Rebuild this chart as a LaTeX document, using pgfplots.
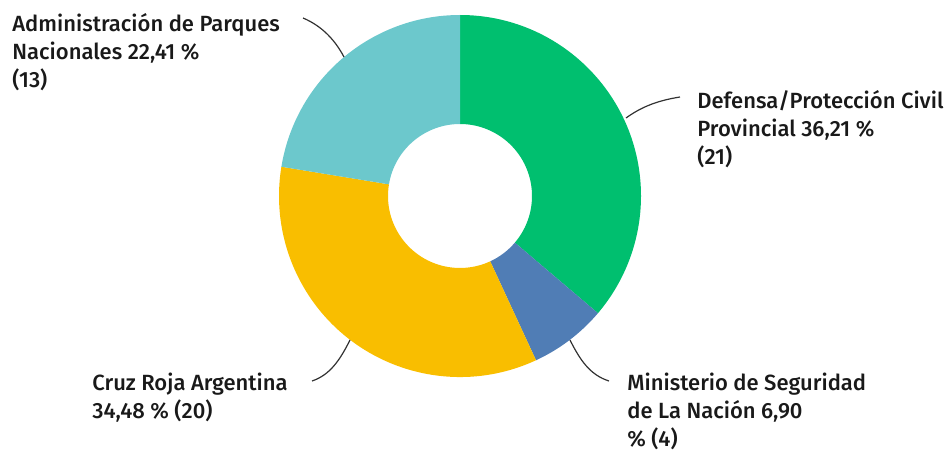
\documentclass[border=0pt]{standalone}
\usepackage{fontspec}
\setmainfont{Fira Sans Medium}
\usepackage{pgfplots}
\usepackage{pgfplotstable}
\pgfplotsset{compat=1.18}
\definecolor{cgreen}{RGB}{0,191,111}
\definecolor{cblue}{RGB}{80,125,181}
\definecolor{cyellow}{RGB}{249,190,0}
\definecolor{cteal}{RGB}{108,200,204}
\definecolor{ctext}{RGB}{25,25,25}
\definecolor{cline}{RGB}{50,50,50}
\pgfplotstableread{
name value color
Defensa 21 cgreen
Ministerio 4 cblue
Cruz 20 cyellow
Parques 13 cteal
}\slices
\gdef\total{0}
\pgfplotstableforeachcolumnelement{value}\of\slices\as\v{\pgfmathsetmacro\tmp{\total+\v}\xdef\total{\tmp}}
\gdef\cum{0}
\pgfplotstableforeachcolumnelement{value}\of\slices\as\v{%
  \pgfmathsetmacro\angA{90-\cum/\total*360}%
  \pgfmathsetmacro\tmp{\cum+\v}\xdef\cum{\tmp}%
  \pgfmathsetmacro\angB{90-\cum/\total*360}%
  \expandafter\xdef\csname sa\pgfplotstablerow\endcsname{\angA}%
  \expandafter\xdef\csname sb\pgfplotstablerow\endcsname{\angB}%
}
\pgfplotstableforeachcolumnelement{color}\of\slices\as\cc{%
  \expandafter\xdef\csname sc\pgfplotstablerow\endcsname{\cc}%
}
\begin{document}
\begin{tikzpicture}
\begin{axis}[
  scale only axis, width=473.5pt, height=225.5pt,
  xmin=0, xmax=947, ymin=0, ymax=451,
  hide axis, clip=false,
]
\pgfplotsinvokeforeach{0,...,3}{%
  \edef\temp{\noexpand\fill[fill=\csname sc#1\endcsname]
    (axis cs:{460+181*cos(\csname sa#1\endcsname)},{255+181*sin(\csname sa#1\endcsname)})
    arc[start angle=\csname sa#1\endcsname, end angle=\csname sb#1\endcsname, radius=90.5pt]
    -- (axis cs:{460+72*cos(\csname sb#1\endcsname)},{255+72*sin(\csname sb#1\endcsname)})
    arc[start angle=\csname sb#1\endcsname, end angle=\csname sa#1\endcsname, radius=36pt]
    -- cycle;}%
  \temp
}
% leader lines
\draw[cline, line width=0.6pt] (axis cs:303,433) .. controls (axis cs:322,425) and (axis cs:335,411) .. (axis cs:344,394);
\draw[cline, line width=0.6pt] (axis cs:680,354) .. controls (axis cs:655,350) and (axis cs:640,343) .. (axis cs:626,333);
\draw[cline, line width=0.6pt] (axis cs:570,111) .. controls (axis cs:580,91) and (axis cs:590,76) .. (axis cs:609,70);
\draw[cline, line width=0.6pt] (axis cs:350,111) .. controls (axis cs:340,91) and (axis cs:330,76) .. (axis cs:312,70);
% labels
\tikzset{lbl/.style={anchor=north west, align=left, inner sep=0pt, text=ctext, font=\fontsize{11}{14}\selectfont}}
\node[lbl] at (axis cs:12,438) {Administración de Parques\\Nacionales 22,41 \%\\(13)};
\node[lbl] at (axis cs:697,361) {Defensa/Protección Civil\\Provincial 36,21 \%\\(21)};
\node[lbl] at (axis cs:627,78) {Ministerio de Seguridad\\de La Nación 6,90\\\% (4)};
\node[lbl] at (axis cs:92,78) {Cruz Roja Argentina\\34,48 \% (20)};
\end{axis}
\pgfresetboundingbox
\useasboundingbox (0,0) rectangle (473.5pt,225.5pt);
\end{tikzpicture}
\end{document}
